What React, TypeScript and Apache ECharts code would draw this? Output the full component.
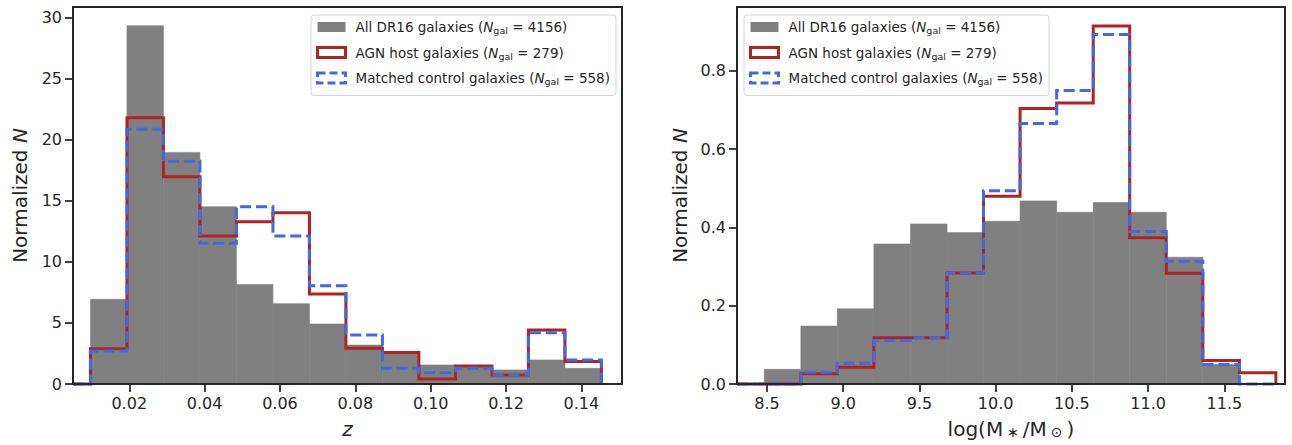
import React, { useEffect, useRef } from 'react';
import * as echarts from 'echarts';

// ---------- data ----------
const seriesNames = ['All DR16 galaxies', 'AGN host galaxies', 'Matched control galaxies'];
const galaxyCounts = [4156, 279, 558];

// redshift histogram
const zBinEdges = [0.0097, 0.01939, 0.02907, 0.03876, 0.04844, 0.05813, 0.06782, 0.0775, 0.08719, 0.09687, 0.10656, 0.11625, 0.12593, 0.13562, 0.1453];
const zAllDR16 = [6.94, 29.35, 18.97, 14.52, 8.16, 6.58, 4.92, 3.19, 2.45, 1.56, 1.5, 1.15, 1.97, 1.28];
const zAgnHost = [2.89, 21.81, 16.98, 12.12, 13.29, 14.03, 7.37, 2.92, 2.57, 0.4, 1.47, 0.74, 4.42, 1.85];
const zControl = [2.7, 20.86, 18.24, 11.52, 14.52, 12.12, 8.05, 4.01, 1.28, 0.93, 1.28, 0.74, 4.2, 1.97];
const zTicks = [0.02, 0.04, 0.06, 0.08, 0.1, 0.12, 0.14];
const zCountTicks = [0, 5, 10, 15, 20, 25, 30];
const zRange = [0.00507, 0.15077];
const zCountMax = 30.88;

// stellar mass histogram
const massBinEdges = [8.482, 8.722, 8.961, 9.201, 9.441, 9.681, 9.92, 10.16, 10.4, 10.64, 10.879, 11.119, 11.359, 11.599, 11.838];
const massAllDR16 = [0.0375, 0.148, 0.192, 0.358, 0.409, 0.387, 0.416, 0.468, 0.439, 0.464, 0.439, 0.324, 0.05];
const massAgnHost = [0, 0.026, 0.043, 0.118, 0.118, 0.284, 0.48, 0.704, 0.718, 0.915, 0.374, 0.283, 0.06, 0.029];
const massControl = [0, 0.03, 0.053, 0.111, 0.118, 0.284, 0.494, 0.666, 0.75, 0.893, 0.39, 0.314, 0.05, 0];
const massTicks = [8.5, 9.0, 9.5, 10.0, 10.5, 11.0, 11.5];
const massNormTicks = [0, 0.2, 0.4, 0.6, 0.8];
const massRange = [8.303, 11.898];
const massNormMax = 0.9635;

// ---------- styles ----------
const GRAY = '#808080';
const RED = '#B22222';
const BLUE = '#4169E1';
const INK = '#262626';
const FONT = 'DejaVu Sans';
const BLUE_DASH = [11.1, 4.8];

// ---------- helpers ----------
const binRects = (edges: number[], values: number[]) => values.map((v, i) => [edges[i], edges[i + 1], v]);
const stepVertices = (edges: number[], values: number[], xStart: number) => {
  const pts: number[][] = [[xStart, 0], [edges[0], 0]];
  values.forEach((v, i) => {
    pts.push([edges[i], v], [edges[i + 1], v]);
  });
  pts.push([edges[values.length], 0]);
  return pts;
};

const renderBars = (params: any, api: any) => {
  const top = api.coord([api.value(0), api.value(2)]);
  const bottom = api.coord([api.value(1), 0]);
  return {
    type: 'rect',
    shape: { x: top[0], y: top[1], width: bottom[0] - top[0], height: bottom[1] - top[1] },
    style: { fill: GRAY, stroke: GRAY, lineWidth: 0.6 },
  };
};

const makeStepRenderer = (color: string, dash: number[] | null) => (params: any, api: any) => {
  if (params.dataIndexInside !== 0) return null;
  const points: number[][] = [];
  for (let i = 0; i < params.dataInsideLength; i++) {
    points.push(api.coord([api.value(0, i), api.value(1, i)]));
  }
  const style: any = { stroke: color, lineWidth: 3, fill: null, lineJoin: 'miter', lineCap: 'butt' };
  if (dash) style.lineDash = dash;
  return { type: 'polyline', shape: { points }, style };
};

const mainXAxis = (gridIndex: number, range: number[], ticks: number[], decimals: number, name: string, nameTextStyle: any) => ({
  type: 'value',
  gridIndex,
  position: 'bottom',
  min: range[0],
  max: range[1],
  z: 10,
  axisLine: { show: true, onZero: false, lineStyle: { color: INK, width: 2 } },
  axisTick: { show: true, customValues: ticks, length: 8, lineStyle: { color: INK, width: 1.75 } },
  axisLabel: { customValues: ticks, formatter: (v: number) => v.toFixed(decimals), margin: 11, color: INK, fontSize: 16, fontFamily: FONT },
  splitLine: { show: false },
  name,
  nameLocation: 'middle',
  nameGap: 35,
  nameTextStyle,
});

const mainYAxis = (gridIndex: number, max: number, ticks: number[], decimals: number, nameGap: number) => ({
  type: 'value',
  gridIndex,
  position: 'left',
  min: 0,
  max,
  z: 10,
  axisLine: { show: true, onZero: false, lineStyle: { color: INK, width: 2 } },
  axisTick: { show: true, customValues: ticks, length: 8, lineStyle: { color: INK, width: 1.75 } },
  axisLabel: { customValues: ticks, formatter: (v: number) => v.toFixed(decimals), margin: 11, color: INK, fontSize: 16, fontFamily: FONT },
  splitLine: { show: false },
  name: '{a|Normalized }{i|N}',
  nameLocation: 'middle',
  nameRotate: 90,
  nameGap,
  nameTextStyle: {
    rich: {
      a: { fontSize: 20, lineHeight: 20, fontFamily: FONT, color: INK },
      i: { fontSize: 20, lineHeight: 20, fontFamily: FONT, color: INK, fontStyle: 'italic' },
    },
  },
});

const frameAxis = (gridIndex: number, position: string, range: number[]) => ({
  type: 'value',
  gridIndex,
  position,
  min: range[0],
  max: range[1],
  z: 10,
  axisLine: { show: true, onZero: false, lineStyle: { color: INK, width: 2 } },
  axisTick: { show: false },
  axisLabel: { show: false },
  splitLine: { show: false },
});

const legendRich = {
  t: { fontSize: 13.5, lineHeight: 17, fontFamily: FONT, color: INK },
  i: { fontSize: 13.5, lineHeight: 17, fontFamily: FONT, color: INK, fontStyle: 'italic' },
  s: { fontSize: 9.5, lineHeight: 9.5, fontFamily: FONT, color: INK, verticalAlign: 'bottom' },
};
const legendLabel = (name: string) => {
  const i = seriesNames.indexOf(name);
  return `{t|${name} (}{i|N}{s|gal}{t| = ${galaxyCounts[i]})}`;
};
const legendData = [
  { name: seriesNames[0], icon: 'rect', itemStyle: { color: GRAY, borderWidth: 0 } },
  { name: seriesNames[1], icon: 'rect', itemStyle: { color: '#ffffff', borderColor: RED, borderWidth: 3 } },
  { name: seriesNames[2], icon: 'rect', itemStyle: { color: '#ffffff', borderColor: BLUE, borderWidth: 3, borderType: [8, 4] } },
];
const makeLegend = (left: number) => ({
  left,
  top: 15,
  orient: 'vertical',
  selectedMode: false,
  itemWidth: 28,
  itemHeight: 10,
  itemGap: 10,
  padding: [5, 6, 9, 5],
  backgroundColor: 'rgba(255,255,255,0.8)',
  borderColor: '#d4d4d4',
  borderWidth: 1,
  borderRadius: 3,
  data: legendData,
  formatter: legendLabel,
  textStyle: { padding: [0, 0, 0, 5], rich: legendRich },
  z: 20,
});

const histSeries = (xAxisIndex: number, yAxisIndex: number, edges: number[], all: number[], agn: number[], ctrl: number[], xStart: number) => [
  {
    type: 'custom', name: seriesNames[0], xAxisIndex, yAxisIndex, z: 2,
    itemStyle: { color: GRAY },
    data: binRects(edges, all), encode: { x: [0, 1], y: 2 }, renderItem: renderBars,
  },
  {
    type: 'custom', name: seriesNames[1], xAxisIndex, yAxisIndex, z: 3,
    itemStyle: { color: RED },
    data: stepVertices(edges, agn, xStart), encode: { x: 0, y: 1 }, renderItem: makeStepRenderer(RED, null),
  },
  {
    type: 'custom', name: seriesNames[2], xAxisIndex, yAxisIndex, z: 4,
    itemStyle: { color: BLUE },
    data: stepVertices(edges, ctrl, xStart), encode: { x: 0, y: 1 }, renderItem: makeStepRenderer(BLUE, BLUE_DASH),
  },
];

export default function App() {
  const ref = useRef<HTMLDivElement>(null);
  useEffect(() => {
    if (!ref.current) return;
    const chart = echarts.init(ref.current, null, { renderer: 'svg' });
    const option: any = {
      animation: false,
      backgroundColor: '#ffffff',
      textStyle: { fontFamily: FONT },
      grid: [
        { left: 73, right: 670, top: 7, bottom: 61, containLabel: false },
        { left: 737, right: 7, top: 7, bottom: 61, containLabel: false },
      ],
      legend: [makeLegend(311), makeLegend(744)],
      xAxis: [
        mainXAxis(0, zRange, zTicks, 2, 'z', { fontSize: 20, fontStyle: 'italic', fontFamily: FONT, color: INK }),
        frameAxis(0, 'top', zRange),
        mainXAxis(1, massRange, massTicks, 1, '{a|log(M}{s|∗}{a|/M}{s|⊙}{a|)}', {
          rich: {
            a: { fontSize: 20, lineHeight: 20, fontFamily: FONT, color: INK },
            s: { fontSize: 14, lineHeight: 14, fontFamily: FONT, color: INK, verticalAlign: 'bottom', padding: [0, 4, 0, 4] },
          },
        }),
        frameAxis(1, 'top', massRange),
      ],
      yAxis: [
        mainYAxis(0, zCountMax, zCountTicks, 0, 43),
        frameAxis(0, 'right', [0, zCountMax]),
        mainYAxis(1, massNormMax, massNormTicks, 1, 47),
        frameAxis(1, 'right', [0, massNormMax]),
      ],
      series: [
        ...histSeries(0, 0, zBinEdges, zAllDR16, zAgnHost, zControl, zRange[0]),
        ...histSeries(2, 2, massBinEdges, massAllDR16, massAgnHost, massControl, massRange[0]),
      ],
    };
    chart.setOption(option);
    return () => chart.dispose();
  }, []);
  return (
    <div
      ref={ref}
      style={{ position: 'absolute', left: 0, top: 0, width: 1292, height: 445, background: '#ffffff' }}
    />
  );
}
